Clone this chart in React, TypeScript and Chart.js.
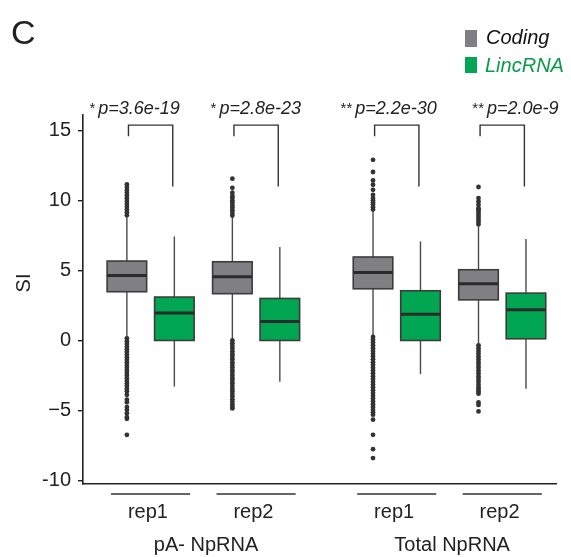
import React, { useEffect, useRef } from 'react';
import { Chart, registerables } from 'chart.js';

Chart.register(...registerables);

// ---------- data ----------
const repLabels = ['rep1', 'rep2', 'rep1', 'rep2'];
const groupNames = ['pA- NpRNA', 'Total NpRNA'];
const seriesNames = ['Coding', 'LincRNA'];
const pLabels = ['p=3.6e-19', 'p=2.8e-23', 'p=2.2e-30', 'p=2.0e-9'];
const stars = ['*', '*', '**', '**'];
const yTicks = [-10, -5, 0, 5, 10, 15];

// Coding box statistics (per condition)
const codingLow = [0.19, 0.0, 0.3, -0.32];
const codingQ1 = [3.48, 3.34, 3.69, 2.9];
const codingMedian = [4.64, 4.55, 4.86, 4.05];
const codingQ3 = [5.67, 5.62, 5.96, 5.05];
const codingHigh = [8.9, 8.88, 9.34, 8.27];

// LincRNA box statistics (per condition)
const lincLow = [-3.29, -2.95, -2.4, -3.45];
const lincQ1 = [0.0, 0.0, 0.0, 0.12];
const lincMedian = [1.96, 1.36, 1.88, 2.19];
const lincQ3 = [3.1, 3.0, 3.55, 3.38];
const lincHigh = [7.43, 6.67, 7.07, 7.24];

// Coding outliers
const outPaRep1 = [
  8.95, 9.15, 9.35, 9.55, 9.75, 9.95, 10.15, 10.35, 10.55, 10.75, 10.95, 11.15,
  0.15, -0.05, -0.25, -0.45, -0.62, -0.8, -1.0, -1.2, -1.38, -1.55, -1.75, -1.95,
  -2.15, -2.32, -2.5, -2.7, -2.9, -3.08, -3.25, -3.45, -3.62, -3.88, -4.23, -4.42,
  -4.76, -4.95, -5.19, -5.47, -5.59, -6.74,
];
const outPaRep2 = [
  8.92, 9.1, 9.3, 9.48, 9.66, 9.85, 10.02, 10.2, 10.32, 10.55, 10.9, 11.55,
  0.0, -0.2, -0.4, -0.58, -0.78, -0.98, -1.16, -1.35, -1.55, -1.74, -1.92, -2.12,
  -2.3, -2.5, -2.7, -2.88, -3.06, -3.25, -3.45, -3.62, -3.82, -4.0, -4.2, -4.38,
  -4.56, -4.72, -4.85,
];
const outTotalRep1 = [
  9.36, 9.52, 9.7, 9.86, 10.02, 10.17, 10.4, 10.76, 11.12, 11.43, 12.03, 12.9,
  0.25, 0.05, -0.15, -0.35, -0.55, -0.75, -0.95, -1.15, -1.35, -1.55, -1.75, -1.95,
  -2.15, -2.35, -2.55, -2.75, -2.95, -3.15, -3.35, -3.55, -3.75, -3.95, -4.15, -4.35,
  -4.55, -4.75, -4.95, -5.12, -5.3, -5.66, -6.74, -7.76, -8.4,
];
const outTotalRep2 = [
  8.3, 8.48, 8.66, 8.84, 9.02, 9.2, 9.34, 9.45, 9.69, 9.93, 10.17, 10.96,
  -0.35, -0.55, -0.75, -0.95, -1.15, -1.35, -1.55, -1.75, -1.95, -2.15, -2.35, -2.55,
  -2.75, -2.95, -3.15, -3.35, -3.5, -3.64, -3.8, -4.43, -4.6, -5.07,
];
const codingOutliers = [outPaRep1, outPaRep2, outTotalRep1, outTotalRep2];

// ---------- layout / style ----------
const FONT = '"Liberation Sans", Arial, Helvetica, sans-serif';
const GREY = '#808084';
const GREEN = '#00a651';
const GREEN_TEXT = '#0a9a4a';
const DARK = '#222222';
const BOX_OFFSET = 0.225;
const BOX_WIDTH = 0.375;
const BRACKET_HALF = 0.21;
const BRACKET_TOP = 15.38;
const BRACKET_LEFT_END = 14.58;
const BRACKET_RIGHT_END = 11.0;
const pTextOffset = [-0.496, -0.348, -0.393, -0.144];

const condPos = (i: number) => i + 1 + (i >= 2 ? 1 / 3 : 0);

const series = [
  { low: codingLow, q1: codingQ1, med: codingMedian, q3: codingQ3, high: codingHigh, fill: GREY, off: -BOX_OFFSET },
  { low: lincLow, q1: lincQ1, med: lincMedian, q3: lincQ3, high: lincHigh, fill: GREEN, off: BOX_OFFSET },
];

const line = (ctx: CanvasRenderingContext2D, x1: number, y1: number, x2: number, y2: number) => {
  ctx.beginPath();
  ctx.moveTo(x1, y1);
  ctx.lineTo(x2, y2);
  ctx.stroke();
};

const boxPlugin = {
  id: 'boxes',
  beforeDatasetsDraw(chart: any) {
    const { ctx, scales } = chart;
    const x = scales.x;
    const y = scales.y;
    ctx.save();
    const half = (x.getPixelForValue(BOX_WIDTH) - x.getPixelForValue(0)) / 2;
    series.forEach((s) => {
      repLabels.forEach((_, i) => {
        const cx = x.getPixelForValue(condPos(i) + s.off);
        const yHi = y.getPixelForValue(s.high[i]);
        const yQ3 = y.getPixelForValue(s.q3[i]);
        const yQ1 = y.getPixelForValue(s.q1[i]);
        const yLo = y.getPixelForValue(s.low[i]);
        const yMed = y.getPixelForValue(s.med[i]);
        ctx.strokeStyle = '#4a4a4a';
        ctx.lineWidth = 1.4;
        line(ctx, cx, yHi, cx, yQ3);
        line(ctx, cx, yQ1, cx, yLo);
        ctx.fillStyle = s.fill;
        ctx.fillRect(cx - half, yQ3, 2 * half, yQ1 - yQ3);
        ctx.strokeStyle = '#3c3c3c';
        ctx.lineWidth = 1.6;
        ctx.strokeRect(cx - half, yQ3, 2 * half, yQ1 - yQ3);
        ctx.strokeStyle = '#2b2b2b';
        ctx.lineWidth = 3;
        line(ctx, cx - half, yMed, cx + half, yMed);
      });
    });
    ctx.restore();
  },
  afterDraw(chart: any) {
    const { ctx, scales } = chart;
    const x = scales.x;
    const y = scales.y;
    ctx.save();

    // significance brackets and p-values
    ctx.strokeStyle = '#333';
    ctx.lineWidth = 1.4;
    repLabels.forEach((_, i) => {
      const xl = x.getPixelForValue(condPos(i) - BRACKET_HALF);
      const xr = x.getPixelForValue(condPos(i) + BRACKET_HALF);
      ctx.beginPath();
      ctx.moveTo(xl, y.getPixelForValue(BRACKET_LEFT_END));
      ctx.lineTo(xl, y.getPixelForValue(BRACKET_TOP));
      ctx.lineTo(xr, y.getPixelForValue(BRACKET_TOP));
      ctx.lineTo(xr, y.getPixelForValue(BRACKET_RIGHT_END));
      ctx.stroke();

      const px = x.getPixelForValue(condPos(i) + pTextOffset[i]);
      ctx.fillStyle = DARK;
      ctx.textBaseline = 'alphabetic';
      ctx.textAlign = 'right';
      ctx.font = `15px ${FONT}`;
      ctx.fillText(stars[i], px - 3, 113);
      ctx.textAlign = 'left';
      ctx.font = `italic 18px ${FONT}`;
      ctx.fillText(pLabels[i], px, 114);
    });

    // replicate underlines and labels
    ctx.strokeStyle = '#333';
    ctx.lineWidth = 1.3;
    ctx.fillStyle = DARK;
    ctx.textAlign = 'center';
    ctx.textBaseline = 'alphabetic';
    ctx.font = `20px ${FONT}`;
    repLabels.forEach((lab, i) => {
      const x1 = x.getPixelForValue(condPos(i) - BOX_WIDTH);
      const x2 = x.getPixelForValue(condPos(i) + BOX_WIDTH);
      line(ctx, x1, 494, x2, 494);
      ctx.fillText(lab, x.getPixelForValue(condPos(i) - 0.025), 518);
    });
    groupNames.forEach((g, k) => {
      const c = (condPos(2 * k) + condPos(2 * k + 1)) / 2 + 0.025;
      ctx.fillText(g, x.getPixelForValue(c), 551);
    });

    // y-axis title
    ctx.save();
    ctx.translate(24, 283);
    ctx.rotate(-Math.PI / 2);
    ctx.textAlign = 'center';
    ctx.textBaseline = 'middle';
    ctx.font = `20px ${FONT}`;
    ctx.fillText('SI', 0, 0);
    ctx.restore();

    // panel letter
    ctx.textAlign = 'left';
    ctx.textBaseline = 'alphabetic';
    ctx.font = `34px ${FONT}`;
    ctx.fillStyle = DARK;
    ctx.fillText('C', 11, 44);

    // legend
    ctx.fillStyle = GREY;
    ctx.fillRect(465, 30, 12, 17);
    ctx.fillStyle = GREEN;
    ctx.fillRect(465, 57, 12, 16);
    ctx.font = `italic 20px ${FONT}`;
    ctx.fillStyle = '#111';
    ctx.fillText(seriesNames[0], 486, 44);
    ctx.fillStyle = GREEN_TEXT;
    ctx.fillText(seriesNames[1], 485, 72);

    ctx.restore();
  },
};

export default function App() {
  const ref = useRef<HTMLCanvasElement | null>(null);
  useEffect(() => {
    if (!ref.current) return;
    const datasets = codingOutliers.map((vals, i) => ({
      label: `${seriesNames[0]} outliers ${i}`,
      data: vals.map((v) => ({ x: condPos(i) - BOX_OFFSET, y: v })),
      pointRadius: 2.4,
      pointHoverRadius: 2.4,
      pointBackgroundColor: '#333',
      pointBorderWidth: 0,
      showLine: false,
    }));
    const chart = new Chart(ref.current, {
      type: 'scatter',
      data: { datasets },
      options: {
        animation: false,
        responsive: false,
        devicePixelRatio: 1,
        events: [],
        layout: { padding: { left: 0, top: 115, right: 15, bottom: 0 } },
        plugins: { legend: { display: false }, tooltip: { enabled: false }, title: { display: false } },
        scales: {
          x: {
            type: 'linear',
            min: 0.359,
            max: 4.843,
            ticks: { display: false },
            grid: { display: false },
            border: { display: true, color: DARK, width: 1.6 },
            afterFit: (s: any) => {
              s.height = 73;
            },
          },
          y: {
            type: 'linear',
            min: -10.25,
            max: 16.1,
            afterBuildTicks: (s: any) => {
              s.ticks = yTicks.map((v) => ({ value: v }));
            },
            ticks: {
              font: { family: FONT, size: 20 },
              color: DARK,
              padding: 7,
              callback: (v: any) => {
                const n = Number(v);
                return n < 0 && n > -10 ? '\u2212' + Math.abs(n) : String(n);
              },
            },
            grid: { display: true, drawOnChartArea: false, drawTicks: true, tickLength: 5, color: DARK, lineWidth: 1.4 },
            border: { display: true, color: DARK, width: 1.6 },
            afterFit: (s: any) => {
              s.width = 83;
            },
          },
        },
      },
      plugins: [boxPlugin],
    } as any);
    return () => chart.destroy();
  }, []);
  return (
    <div style={{ position: 'absolute', left: 0, top: 0, width: 571, height: 557, background: '#fff' }}>
      <canvas ref={ref} width={571} height={557} style={{ display: 'block', width: 571, height: 557 }} />
    </div>
  );
}
